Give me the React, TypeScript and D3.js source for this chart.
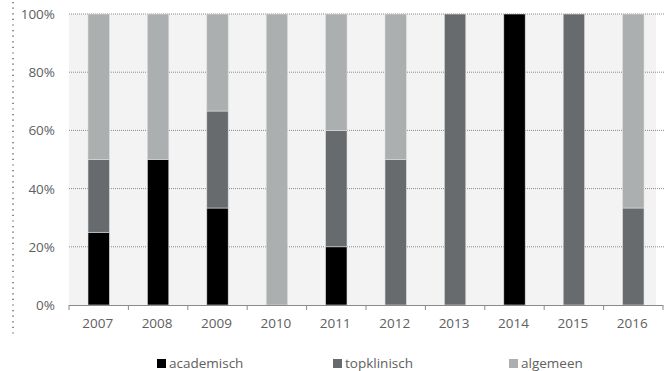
import * as d3 from "d3";

const years = ["2007", "2008", "2009", "2010", "2011", "2012", "2013", "2014", "2015", "2016"];
const academisch = [25, 50, 33.33, 0, 20, 0, 0, 100, 0, 0];
const topklinisch = [25, 0, 33.33, 0, 40, 50, 100, 0, 100, 33.33];
const algemeen = [50, 50, 33.34, 100, 40, 50, 0, 0, 0, 66.67];
const seriesNames = ["academisch", "topklinisch", "algemeen"];
const colors = ["#000000", "#676b6e", "#acafaf"];
const yTicks = [0, 20, 40, 60, 80, 100];

const W = 664;
const H = 371;
const left = 69;
const right = 663;
const top = 14;
const bottom = 305;

export default function App() {
  const rows = years.map((y, i) => ({
    year: y,
    academisch: academisch[i],
    topklinisch: topklinisch[i],
    algemeen: algemeen[i],
  }));
  const stacked = d3.stack<any>().keys(seriesNames)(rows);

  const x = d3.scaleBand().domain(years).range([left, right]).paddingInner(0.64).paddingOuter(0.32);
  const xb = d3.scaleBand().domain(years).range([left, right]);
  const y = d3.scaleLinear().domain([0, 100]).range([bottom, top]);
  const font = "'Open Sans', sans-serif";
  const textColor = "#606060";

  return (
    <svg width={W} height={H} style={{ position: "absolute", left: 0, top: 0, fontFamily: font }}>
      <rect x={left} y={top} width={656 - left} height={bottom - top} fill="#f3f3f3" />
      {yTicks.filter((t) => t > 0).map((t) => (
        <line key={t} x1={left} x2={W} y1={y(t)} y2={y(t)} stroke="#8a8a8a" strokeWidth={1} strokeDasharray="1,1" />
      ))}
      {stacked.map((s, si) =>
        s.map((d, i) =>
          d[1] - d[0] > 0 ? (
            <rect
              key={`${si}-${i}`}
              x={x(years[i])!}
              y={y(d[1])}
              width={x.bandwidth()}
              height={y(d[0]) - y(d[1])}
              fill={colors[si]}
              stroke="#dcdcdc"
              strokeWidth={0.6}
            />
          ) : null
        )
      )}
      <line x1={left} x2={right} y1={bottom + 0.5} y2={bottom + 0.5} stroke="#8a8a8a" strokeWidth={1} />
      {years.concat(["end"]).map((yr, i) => {
        const tx = i < years.length ? xb(yr)! : right;
        return <line key={yr} x1={tx} x2={tx} y1={bottom} y2={bottom + 5} stroke="#8a8a8a" strokeWidth={1} />;
      })}
      {years.map((yr) => (
        <text key={yr} x={xb(yr)! + xb.bandwidth() / 2 - 1} y={bottom + 23} textAnchor="middle" fontSize={13.5} fill={textColor}>
          {yr}
        </text>
      ))}
      {yTicks.map((t) => (
        <text key={t} x={55} y={y(t) + 5} textAnchor="end" fontSize={13.5} fill={textColor}>
          {t}%
        </text>
      ))}
      <line x1={13} x2={13} y1={2} y2={334} stroke="#8a8a8a" strokeWidth={2} strokeDasharray="1.2,4.4" />
      {seriesNames.map((n, i) => (
        <g key={n} transform={`translate(${157 + i * 176},0)`}>
          <rect x={0} y={359} width={9} height={9} fill={colors[i]} />
          <text x={12} y={368} fontSize={13.5} fill={textColor}>
            {n}
          </text>
        </g>
      ))}
    </svg>
  );
}
